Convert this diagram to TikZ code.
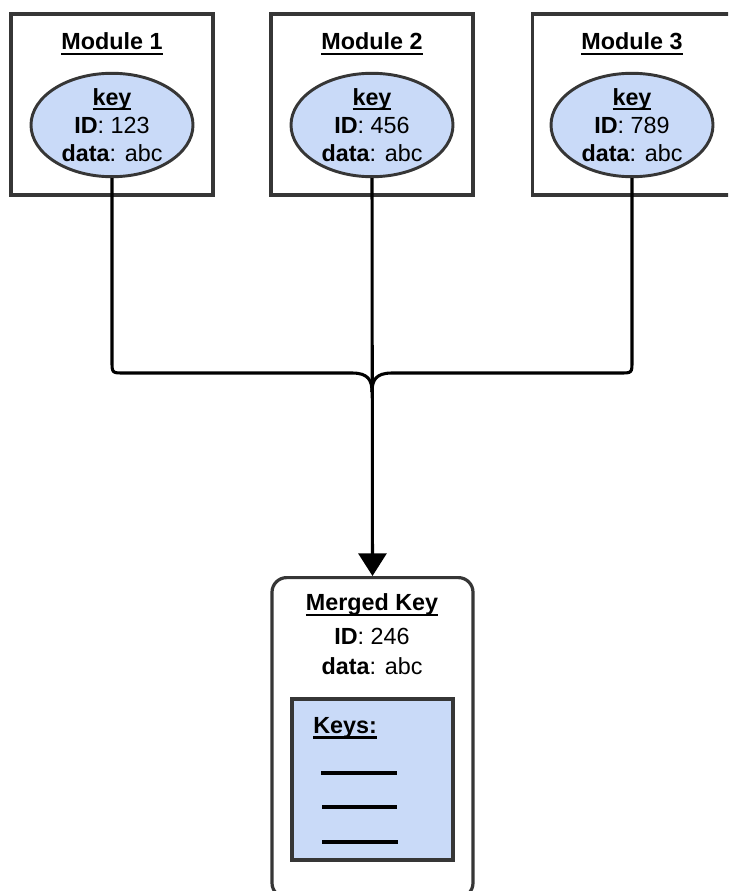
\documentclass[tikz,border=0pt]{standalone}
\usepackage{fontspec}
\setmainfont{Liberation Sans}
\usetikzlibrary{arrows.meta,shapes.geometric}
\definecolor{keyblue}{HTML}{C9DAF8}
\definecolor{edgegray}{HTML}{363636}
\newcommand\myul[1]{\leavevmode\setbox0\hbox{#1}\rlap{\vrule width\wd0 height -2.2pt depth 3.8pt}\box0}
\tikzset{
  px/.style={x=0.75pt,y=-0.75pt},
  modbox/.style={draw=edgegray,line width=2.4pt,fill=white},
  keyell/.style={ellipse,draw=edgegray,line width=2.2pt,fill=keyblue,minimum width=121.5pt,minimum height=73.5pt,inner sep=0pt,align=center,font=\fontsize{17.5}{21}\selectfont},
  title/.style={font=\fontsize{17.5}{21}\selectfont\bfseries,inner sep=0pt},
  conn/.style={draw=black,line width=2.3pt},
  mergebox/.style={draw=edgegray,line width=2.4pt,fill=white,rounded corners=11pt},
  listbox/.style={draw=edgegray,line width=2.4pt,fill=keyblue},
  listline/.style={draw=black,line width=2.4pt},
  plain/.style={font=\fontsize{17.5}{21}\selectfont,inner sep=0pt,align=center}
}
\begin{document}
\begin{tikzpicture}[px]
\clip (0,0) rectangle (728,891);
\fill[white] (0,0) rectangle (728,891);
% module boxes
\node[modbox,minimum width=151.5pt,minimum height=135.75pt,inner sep=0pt] (m1) at (112,104.5) {};
\node[modbox,minimum width=151.5pt,minimum height=135.75pt,inner sep=0pt] (m2) at (372,104.5) {};
\node[modbox,minimum width=165pt,minimum height=135.75pt,inner sep=0pt,anchor=west] (m3) at (531,104.5) {};
\node[title] (t1) at (112,44) {\myul{Module 1}};
\node[title] (t2) at (372,44) {\myul{Module 2}};
\node[title] (t3) at (632,44) {\myul{Module 3}};
% keys
\node[keyell] (k1) at (112,125) {\textbf{\myul{key}}\\\textbf{ID}: 123\\\textbf{data}: abc};
\node[keyell] (k2) at (372,125) {\textbf{\myul{key}}\\\textbf{ID}: 456\\\textbf{data}: abc};
\node[keyell] (k3) at (632,125) {\textbf{\myul{key}}\\\textbf{ID}: 789\\\textbf{data}: abc};
% merged key
\node[mergebox,minimum width=150.75pt,minimum height=240pt,inner sep=0pt,anchor=north] (mk) at (372.5,576) {};
\node[plain] (mt) at (372,605) {\textbf{\myul{Merged Key}}};
\node[plain] (mid) at (372,636) {\textbf{ID}: 246};
\node[plain] (mdata) at (372,666) {\textbf{data}: abc};
\node[listbox,minimum width=120.75pt,minimum height=120.75pt,inner sep=0pt] (lb) at (372.5,779.5) {};
\node[title,anchor=west] (kt) at (313,728) {\myul{Keys:}};
\coordinate (l1a) at (321,773); \coordinate (l1b) at (397,773);
\coordinate (l2a) at (322,807); \coordinate (l2b) at (397,807);
\coordinate (l3a) at (322,842); \coordinate (l3b) at (398,842);
\draw[listline] (l1a) -- (l1b);
\draw[listline] (l2a) -- (l2b);
\draw[listline] (l3a) -- (l3b);
% connectors
\coordinate (j) at (372,392);
\draw[conn] (k1.south) -- (112,361) .. controls (112,373) .. (124,373) -- (352,373) .. controls (368,373) and (372,380) .. (j);
\draw[conn] (k3.south) -- (632,361) .. controls (632,373) .. (620,373) -- (392,373) .. controls (376,373) and (372,380) .. (j);
\draw[conn,-{Triangle[length=17pt,width=21pt]}] (k2.south) -- (mk.north);
\end{tikzpicture}
\end{document}
